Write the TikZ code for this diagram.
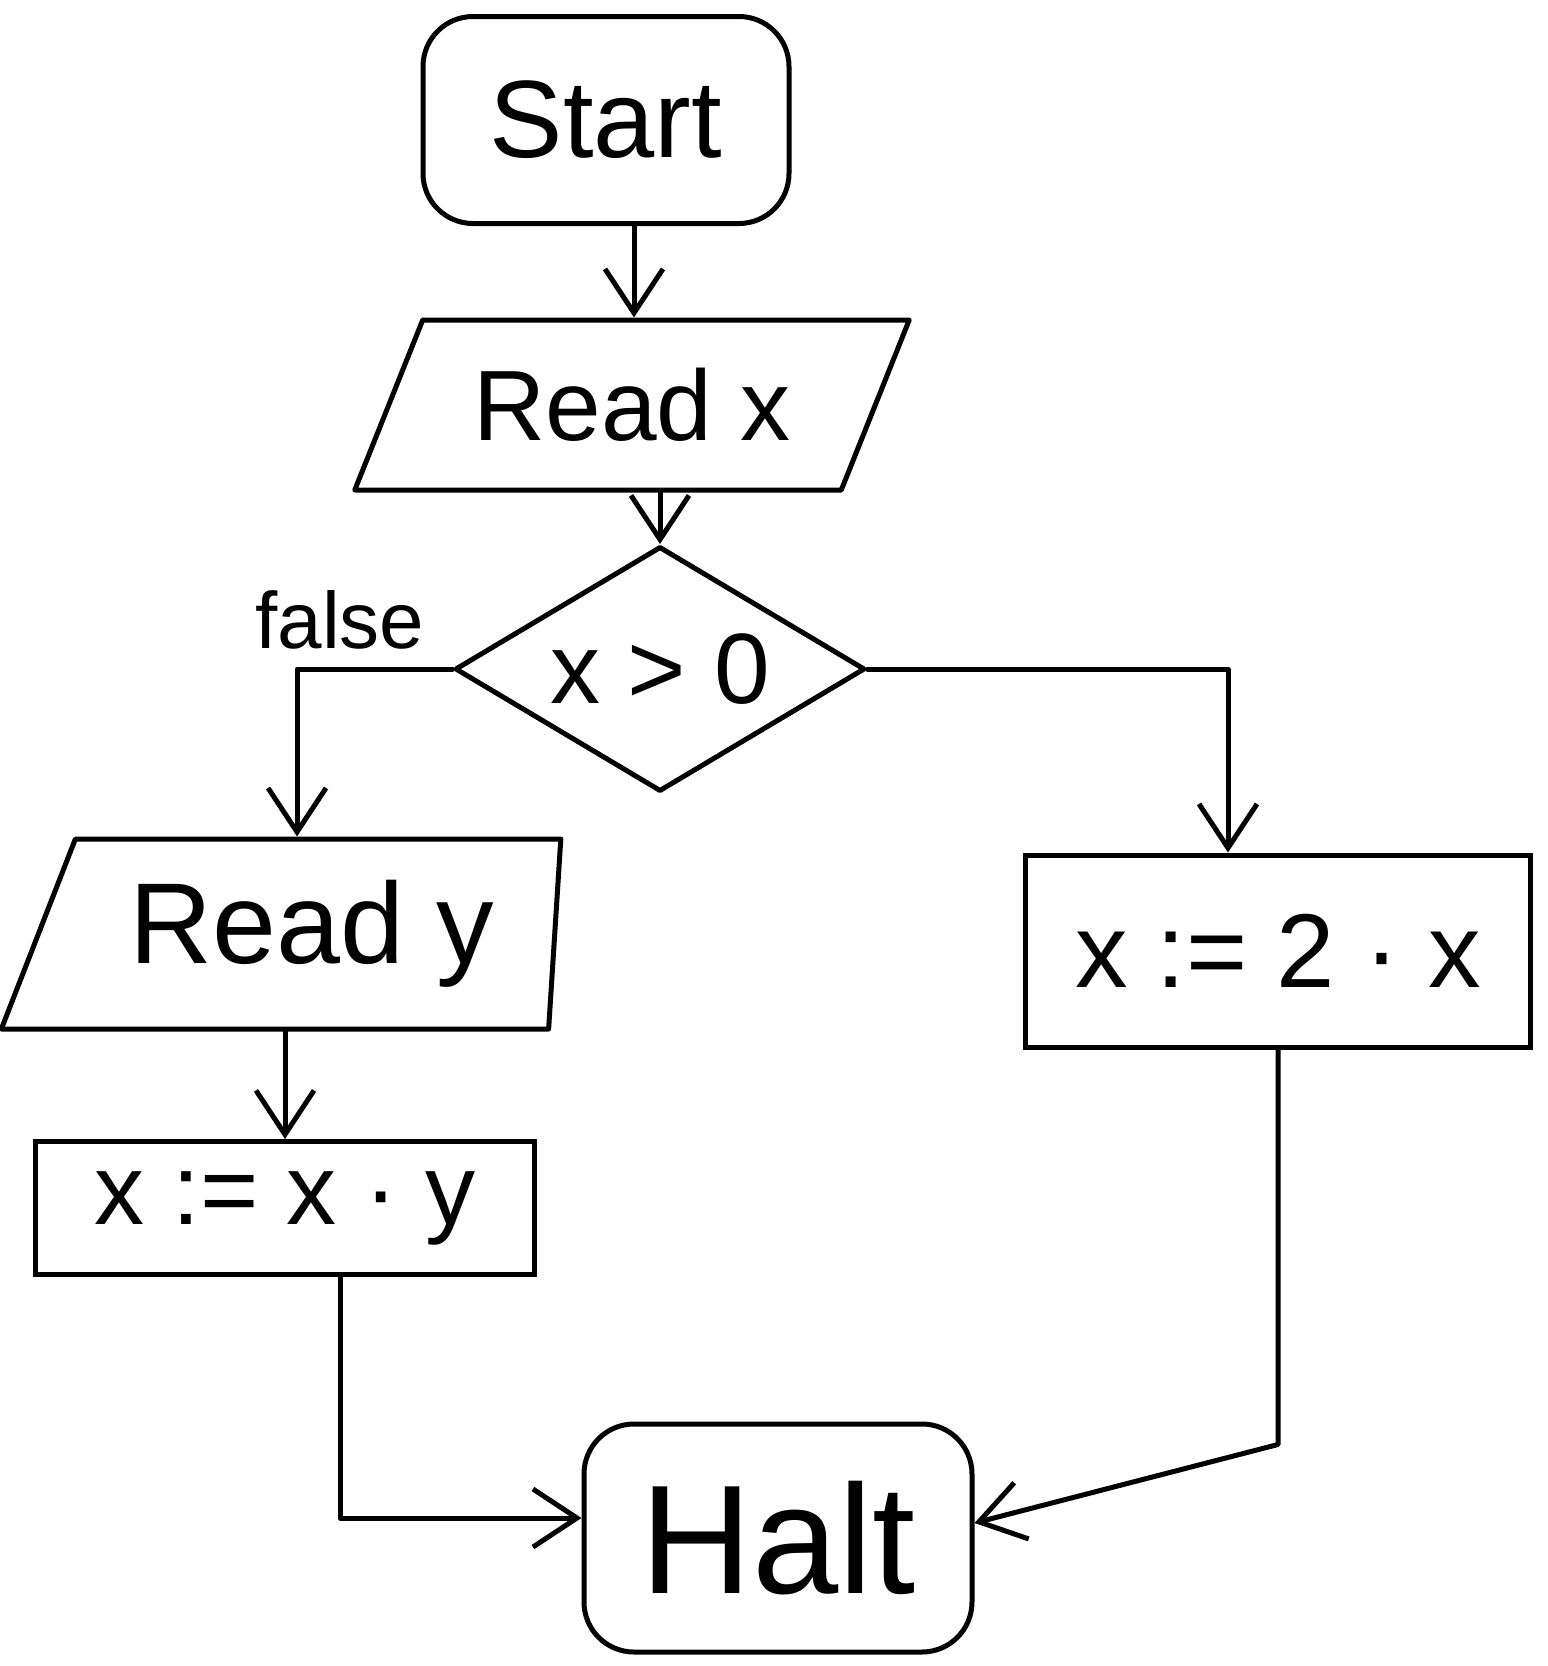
\documentclass[tikz,border=0pt]{standalone}
\usepackage{fontspec}
\setmainfont{Liberation Sans}
\usetikzlibrary{shapes.geometric,arrows.meta}
\begin{document}
\begin{tikzpicture}[x=1pt,y=-1pt,
  line/.style={line width=5pt, line cap=round, line join=round},
  arr/.style={line, -{Straight Barb[length=44pt,width=58pt,line width=5pt]}},
  terminal/.style={draw, line width=5pt, rounded corners=50pt, inner sep=0pt},
  io/.style={draw, line width=5pt, line join=round, trapezium, trapezium stretches=true, inner sep=0pt},
  proc/.style={draw, line width=5pt, rectangle, inner sep=0pt},
  decision/.style={draw, line width=5pt, line join=round, diamond, aspect=1.67, inner sep=0pt},
]
\useasboundingbox (0,0) rectangle (1548,1666);
\node[terminal, minimum width=366pt, minimum height=207pt, font=\fontsize{110}{120}\selectfont] (start) at (606,120) {Start};
\node[io, trapezium left angle=55, trapezium right angle=125, minimum width=555pt, minimum height=170pt, font=\fontsize{100}{110}\selectfont] (readx) at (632,405) {Read x};
\node[decision, minimum width=410pt, minimum height=245pt, font=\fontsize{100}{110}\selectfont] (dia) at (660,669) {x > 0};
\node[font=\fontsize{80}{90}\selectfont] (false) at (340,620) {false};
\node[io, trapezium left angle=62, trapezium right angle=95, minimum width=560pt, minimum height=190pt, font=\fontsize{115}{125}\selectfont] (ready) at (312,934) {Read y};
\node[proc, minimum width=499pt, minimum height=133pt, font=\fontsize{100}{110}\selectfont] (assign1) at (285,1208) {x := x · y};
\node[proc, minimum width=505pt, minimum height=192pt, font=\fontsize{105}{115}\selectfont] (assign2) at (1278,951) {x := 2 · x};
\node[terminal, minimum width=388pt, minimum height=228pt, font=\fontsize{155}{165}\selectfont] (halt) at (778,1538) {Halt};
\draw[arr] ([xshift=28pt]start.south) -- ([xshift=28pt]start.south |- readx.north);
\draw[arr] (readx.south -| dia.north) -- (dia.north);
\draw[arr] (dia.west) -| ([xshift=-15pt]ready.north);
\draw[arr] (dia.east) -| ([xshift=-50pt]assign2.north);
\draw[arr] (ready.south -| assign1.north) -- (assign1.north);
\draw[arr] ([xshift=55pt]assign1.south) |- ([yshift=20pt]halt.west);
\draw[arr] (assign2.south) -- ++(0,395) -- ([yshift=15pt]halt.east);
\end{tikzpicture}
\end{document}
